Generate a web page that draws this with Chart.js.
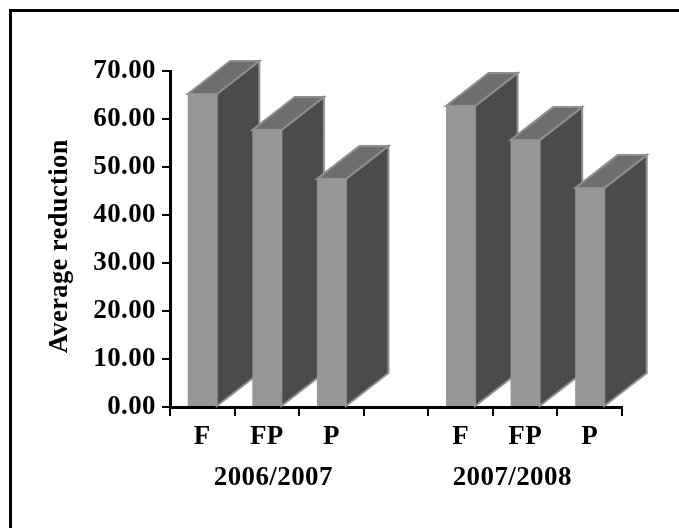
<!DOCTYPE html>
<html>
<head>
<meta charset="utf-8">
<style>
html,body{margin:0;padding:0;background:#fff;overflow:hidden}
#box{position:relative;width:679px;height:528px}
#top{position:absolute;left:9px;top:9px;right:0;height:3px;background:#000}
#left{position:absolute;left:9px;top:9px;bottom:0;width:3px;background:#000}
canvas{position:absolute;left:0;top:0}
</style>
<script src="https://cdn.jsdelivr.net/npm/chart.js@4"></script>
</head>
<body>
<div id="box"><div id="top"></div><div id="left"></div><canvas id="c" width="679" height="528"></canvas></div>
<script>
const categories = ['F','FP','P','','F','FP','P'];
const reduction = [65.2,57.7,47.5,null,62.7,55.6,45.6];
const groupLabels = ['2006/2007','2007/2008'];
const groupCentres = [1.1,4.8];
const yTitle = 'Average reduction';
const yTitleCentre = 33.5;

const serif = 'Liberation Serif';
const depth = {x:42.5,y:-33};

const box3d = {
  id:'box3d',
  beforeDraw(chart){ chart.ctx.letterSpacing='0.4px'; },
  beforeDatasetsDraw(chart){
    const ctx=chart.ctx;
    chart.getDatasetMeta(0).data.forEach((b,i)=>{
      if(reduction[i]==null) return;
      const r=b.x+b.width/2,l=b.x-b.width/2,t=b.y,bt=b.base;
      ctx.save();
      ctx.lineWidth=2;ctx.strokeStyle='#8f8f8f';ctx.lineJoin='miter';
      ctx.fillStyle='#4b4b4b';
      ctx.beginPath();ctx.moveTo(r,t);ctx.lineTo(r+depth.x,t+depth.y);ctx.lineTo(r+depth.x,bt+depth.y);ctx.lineTo(r,bt);ctx.closePath();ctx.fill();ctx.stroke();
      ctx.fillStyle='#6e6e6e';
      ctx.beginPath();ctx.moveTo(l,t);ctx.lineTo(l+depth.x,t+depth.y);ctx.lineTo(r+depth.x,t+depth.y);ctx.lineTo(r,t);ctx.closePath();ctx.fill();ctx.stroke();
      ctx.restore();
    });
  },
  afterDraw(chart){
    const ctx=chart.ctx,x=chart.scales.x,y=chart.scales.y;
    ctx.save();
    ctx.fillStyle='#000';ctx.textAlign='center';ctx.textBaseline='middle';
    ctx.font='bold 27px "'+serif+'"';
    groupLabels.forEach((g,i)=>ctx.fillText(g,x.getPixelForValue(groupCentres[i]),478));
    ctx.translate(60,y.getPixelForValue(yTitleCentre));
    ctx.rotate(-Math.PI/2);
    ctx.font='bold 26.5px "'+serif+'"';
    ctx.fillText(yTitle,0,0);
    ctx.restore();
  }
};

new Chart(document.getElementById('c'),{
  type:'bar',
  data:{labels:categories,datasets:[{data:reduction,backgroundColor:'#969696',borderWidth:0,barPercentage:0.45,categoryPercentage:1}]},
  options:{
    responsive:false,animation:false,
    layout:{padding:{top:71,right:57,left:0,bottom:0}},
    plugins:{legend:{display:false},tooltip:{enabled:false}},
    scales:{
      x:{
        afterFit(s){s.height=121},
        grid:{offset:true,drawOnChartArea:false,color:'#000',lineWidth:2,tickLength:9},
        border:{color:'#000',width:3},
        ticks:{color:'#000',padding:5,autoSkip:false,maxRotation:0,font:{family:serif,weight:'bold',size:27}}
      },
      y:{
        min:0,max:70,
        afterFit(s){s.width=170},
        grid:{drawOnChartArea:false,color:'#000',lineWidth:2,tickLength:8},
        border:{color:'#000',width:3},
        ticks:{stepSize:10,color:'#000',padding:6,callback:v=>v.toFixed(2),font:{family:serif,weight:'bold',size:27}}
      }
    }
  },
  plugins:[box3d]
});
</script>
</body>
</html>
